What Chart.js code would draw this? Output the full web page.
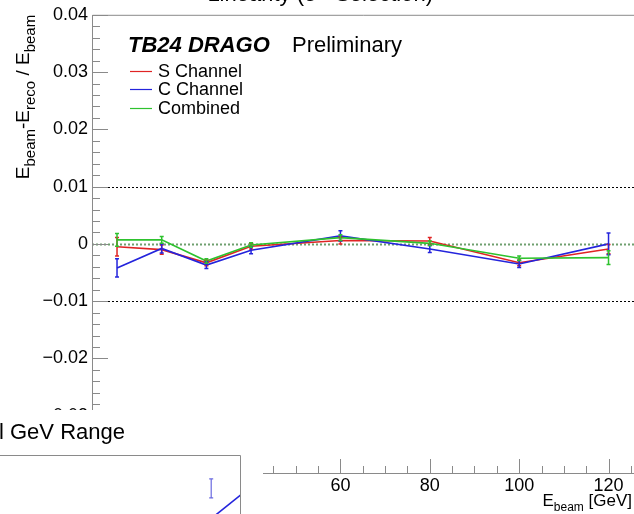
<!DOCTYPE html>
<html>
<head>
<meta charset="utf-8">
<script src="https://cdn.jsdelivr.net/npm/chart.js@4.4.1/dist/chart.umd.min.js"></script>
<style>
  html, body { margin: 0; padding: 0; background: #fff; overflow: hidden; }
  #wrap { position: relative; width: 634px; height: 514px; overflow: hidden; }
  #main { position: absolute; left: 0; top: 0; }
  #inset { position: absolute; left: 0; top: 410px; background: #fff; }
</style>
</head>
<body>
<div id="wrap">
  <canvas id="main" width="634" height="514"></canvas>
  <canvas id="inset" width="263" height="160"></canvas>
</div>
<script>
// Beam energies (GeV) and relative residuals per channel
const energies = [10, 20, 30, 40, 60, 80, 100, 120];
const sChannel = [-0.0005, -0.0010, -0.0033, -0.0004, 0.0006, 0.0005, -0.0033, -0.0009];
const cChannel = [-0.0042, -0.0008, -0.0037, -0.0011, 0.0014, -0.0009, -0.0035, 0.0000];
const combined = [0.0007, 0.0007, -0.0030, -0.0002, 0.0011, 0.0001, -0.0025, -0.0024];
const sErr = [0.0016, 0.0008, 0.0005, 0.0005, 0.0006, 0.0006, 0.0005, 0.0008];
const cErr = [0.0016, 0.0008, 0.0006, 0.0006, 0.0009, 0.0006, 0.0006, 0.0019];
const combErr = [0.0011, 0.0006, 0.0004, 0.0004, 0.0005, 0.0004, 0.0004, 0.0012];

const xTicks = [20, 40, 60, 80, 100, 120];
const yTicks = [-0.04, -0.03, -0.02, -0.01, 0, 0.01, 0.02, 0.03, 0.04];
const refLines = [-0.01, 0, 0.01];

// second (lower) pad: one error bar and one line segment
const insetBarX = [88];
const insetBarY = [71];
const insetBarErr = [8.3];
const insetLineX = [85, 105];
const insetLineY = [39.6, 73.2];

const FONT = '"Liberation Sans", Arial, Helvetica, sans-serif';
const RED = '#e02424';
const BLUE = '#2424dc';
const GREEN = '#2ec22e';
const AXIS = '#8a8a8a';

function pts(xs, ys) {
  return xs.map((x, i) => ({ x: x, y: ys[i] }));
}

// draw a run of text pieces, subscripts shifted down and smaller
function drawRich(ctx, parts, x, y, size, align, subRatio) {
  const subSize = Math.round(size * (subRatio || 0.7));
  let total = 0;
  parts.forEach(p => {
    ctx.font = (p.sub ? subSize : size) + 'px ' + FONT;
    p.w = ctx.measureText(p.t).width;
    total += p.w;
  });
  let cx = align === 'right' ? x - total : align === 'center' ? x - total / 2 : x;
  parts.forEach(p => {
    ctx.font = (p.sub ? subSize : size) + 'px ' + FONT;
    ctx.fillText(p.t, cx, p.sub ? y + size * 0.3 : y);
    cx += p.w;
  });
}

function errorBars(ctx, chart, errKey) {
  chart.data.datasets.forEach(ds => {
    if (!ds[errKey]) return;
    const xs = chart.scales.x, ys = chart.scales.y;
    ctx.save();
    ctx.strokeStyle = ds.barColor || ds.borderColor;
    ctx.lineWidth = ds.barWidth || 1.5;
    ds.data.forEach((p, i) => {
      const px = xs.getPixelForValue(p.x);
      const top = ys.getPixelForValue(p.y + ds[errKey][i]);
      const bot = ys.getPixelForValue(p.y - ds[errKey][i]);
      ctx.beginPath();
      ctx.moveTo(px, top); ctx.lineTo(px, bot);
      ctx.moveTo(px - 2, top); ctx.lineTo(px + 2, top);
      ctx.moveTo(px - 2, bot); ctx.lineTo(px + 2, bot);
      ctx.stroke();
    });
    ctx.restore();
  });
}

const rootDecor = {
  id: 'rootDecor',
  beforeDatasetsDraw(chart) {
    const ctx = chart.ctx, a = chart.chartArea, ys = chart.scales.y;
    ctx.save();
    refLines.forEach(v => {
      const py = Math.round(ys.getPixelForValue(v)) + 0.5;
      ctx.beginPath();
      if (v === 0) {
        ctx.strokeStyle = '#6f9f6f';
        ctx.lineWidth = 2;
      } else {
        ctx.strokeStyle = '#000';
        ctx.lineWidth = 1;
      }
      ctx.setLineDash([2, 2]);
      ctx.moveTo(a.left, py);
      ctx.lineTo(a.right, py);
      ctx.stroke();
    });
    ctx.restore();
  },
  afterDatasetsDraw(chart) {
    errorBars(chart.ctx, chart, 'yErr');
  },
  afterDraw(chart) {
    const ctx = chart.ctx, a = chart.chartArea;
    const xs = chart.scales.x, ys = chart.scales.y;
    ctx.save();

    // frame
    ctx.strokeStyle = AXIS;
    ctx.lineWidth = 1;
    ctx.beginPath();
    ctx.moveTo(a.left + 0.5, a.bottom);
    ctx.lineTo(a.left + 0.5, a.top + 0.5);
    ctx.lineTo(a.right, a.top + 0.5);
    ctx.moveTo(a.left, a.bottom + 0.5);
    ctx.lineTo(a.right, a.bottom + 0.5);
    ctx.stroke();

    // y ticks, every 0.002 with majors at 0.01
    ctx.beginPath();
    for (let i = -20; i <= 20; i++) {
      const py = Math.round(ys.getPixelForValue(i * 0.002)) + 0.5;
      const len = i % 5 === 0 ? 16 : 8;
      ctx.moveTo(a.left, py);
      ctx.lineTo(a.left + len, py);
    }
    // x ticks, every 5 GeV with majors at 20
    for (let v = 5; v <= 125; v += 5) {
      if (v < xs.min || v > xs.max) continue;
      const px = Math.round(xs.getPixelForValue(v)) + 0.5;
      const len = v % 20 === 0 ? 14 : 7;
      ctx.moveTo(px, a.bottom);
      ctx.lineTo(px, a.bottom - len);
    }
    ctx.stroke();

    // cut-off title above the frame
    ctx.fillStyle = '#000';
    ctx.textBaseline = 'alphabetic';
    ctx.textAlign = 'right';
    ctx.font = '22px ' + FONT;
    ctx.fillText('Linearity (e+ Selection)', 433, 1);

    // experiment tag
    ctx.textAlign = 'left';
    ctx.font = 'italic bold 22px ' + FONT;
    ctx.fillText('TB24 DRAGO', 128, 52);
    ctx.font = '22px ' + FONT;
    ctx.fillText('Preliminary', 292, 52);

    // legend
    ctx.font = '18px ' + FONT;
    ctx.textBaseline = 'middle';
    chart.data.datasets.forEach((ds, i) => {
      const ly = 71 + i * 18.3;
      ctx.strokeStyle = ds.borderColor;
      ctx.lineWidth = 1.2;
      ctx.beginPath();
      ctx.moveTo(130, Math.round(ly) + 0.5);
      ctx.lineTo(152, Math.round(ly) + 0.5);
      ctx.stroke();
      ctx.fillText(ds.label, 158, ly + 1);
    });

    // axis titles
    ctx.textBaseline = 'alphabetic';
    ctx.textAlign = 'left';
    drawRich(ctx, [
      { t: 'E' }, { t: 'beam', sub: true }, { t: ' [GeV]' }
    ], 632, 506, 17, 'right', 0.68);

    ctx.save();
    ctx.translate(29, 97);
    ctx.rotate(-Math.PI / 2);
    drawRich(ctx, [
      { t: 'E' }, { t: 'beam', sub: true }, { t: '-E' }, { t: 'reco', sub: true },
      { t: ' / E' }, { t: 'beam', sub: true }
    ], 0, 0, 19, 'center', 0.78);
    ctx.restore();

    ctx.restore();
  }
};

new Chart(document.getElementById('main'), {
  type: 'line',
  data: {
    datasets: [
      { label: 'S Channel', data: pts(energies, sChannel), yErr: sErr,
        borderColor: RED, borderWidth: 1.6, pointRadius: 0, order: 3 },
      { label: 'C Channel', data: pts(energies, cChannel), yErr: cErr,
        borderColor: BLUE, borderWidth: 1.6, pointRadius: 0, order: 2 },
      { label: 'Combined', data: pts(energies, combined), yErr: combErr,
        borderColor: GREEN, borderWidth: 1.6, pointRadius: 0, order: 1 }
    ]
  },
  options: {
    responsive: false,
    animation: false,
    events: [],
    layout: { padding: { left: 0, top: 13, right: 0, bottom: 0 } },
    plugins: { legend: { display: false }, tooltip: { enabled: false } },
    scales: {
      x: {
        type: 'linear', min: 4.4, max: 125.7,
        grid: { display: false, drawTicks: false },
        border: { display: false },
        afterBuildTicks: s => { s.ticks = xTicks.map(v => ({ value: v })); },
        afterFit: s => { s.height = 41; },
        ticks: { padding: 2, color: '#000', maxRotation: 0, autoSkip: false,
                 font: { family: FONT, size: 18 } }
      },
      y: {
        type: 'linear', min: -0.04, max: 0.04,
        grid: { display: false, drawTicks: false },
        border: { display: false },
        afterBuildTicks: s => { s.ticks = yTicks.map(v => ({ value: v })); },
        afterFit: s => { s.width = 92; },
        ticks: { padding: 4, color: '#000', autoSkip: false,
                 font: { family: FONT, size: 18 },
                 callback: v => Math.abs(v) < 1e-9 ? '0' : (v < 0 ? '\u2212' : '') + Math.abs(v).toFixed(2) }
      }
    }
  },
  plugins: [rootDecor]
});

// lower pad overlapping the bottom-left corner
const insetDecor = {
  id: 'insetDecor',
  afterDatasetsDraw(chart) {
    errorBars(chart.ctx, chart, 'yErr');
  },
  afterDraw(chart) {
    const ctx = chart.ctx, a = chart.chartArea;
    ctx.save();
    ctx.fillStyle = '#000';
    ctx.font = '22px ' + FONT;
    ctx.textBaseline = 'alphabetic';
    const lead = 'Linearity Full ';
    const x0 = 10 - ctx.measureText(lead).width;
    ctx.fillText(lead + 'GeV Range', x0, 29);

    ctx.strokeStyle = AXIS;
    ctx.lineWidth = 1;
    ctx.beginPath();
    ctx.moveTo(0, a.top + 0.5);
    ctx.lineTo(a.right + 0.5, a.top + 0.5);
    ctx.lineTo(a.right + 0.5, a.bottom);
    ctx.stroke();
    ctx.restore();
  }
};

new Chart(document.getElementById('inset'), {
  type: 'line',
  data: {
    datasets: [
      { data: pts(insetLineX, insetLineY), borderColor: BLUE, borderWidth: 1.6, pointRadius: 0 },
      { data: pts(insetBarX, insetBarY), yErr: insetBarErr, showLine: false, pointRadius: 0,
        borderColor: BLUE, barColor: '#6a6ae0', barWidth: 1.2 }
    ]
  },
  options: {
    responsive: false,
    animation: false,
    events: [],
    layout: { padding: { left: 0, top: 45, right: 23, bottom: 0 } },
    plugins: { legend: { display: false }, tooltip: { enabled: false } },
    scales: {
      x: { type: 'linear', min: 0, max: 100, display: false },
      y: { type: 'linear', min: 0, max: 100, display: false }
    }
  },
  plugins: [insetDecor]
});
</script>
</body>
</html>
